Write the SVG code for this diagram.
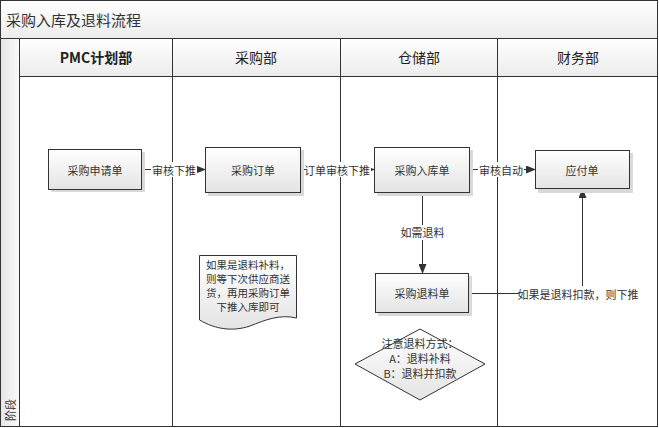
<svg xmlns="http://www.w3.org/2000/svg" width="659" height="428" viewBox="0 0 659 428">
<defs>
<linearGradient id="gNode" x1="0" y1="0" x2="0" y2="1"><stop offset="0" stop-color="#ffffff"/><stop offset="1" stop-color="#e4e4e4"/></linearGradient>
<linearGradient id="gHead" x1="0" y1="0" x2="0" y2="1"><stop offset="0" stop-color="#ffffff"/><stop offset="1" stop-color="#ececec"/></linearGradient>
<linearGradient id="gSide" x1="0" y1="0" x2="1" y2="0"><stop offset="0" stop-color="#e6e6e6"/><stop offset="1" stop-color="#fafafa"/></linearGradient>
<marker id="arr" markerWidth="10" markerHeight="8" refX="9" refY="4" orient="auto" markerUnits="userSpaceOnUse"><path d="M0,0 L10,4 L0,8 Z" fill="#333"/></marker>
<style>
.t{font-family:"Noto Sans CJK SC","Noto Sans",sans-serif;fill:#333;}
.n{font-size:11px;text-anchor:middle;dominant-baseline:central;}
.nt{font-size:10.5px;text-anchor:middle;dominant-baseline:central;}
.h{font-size:14px;text-anchor:middle;dominant-baseline:central;fill:#222;}
.box{fill:url(#gNode);stroke:#333;stroke-width:1;}
.sh{fill:#d9d9d9;}
.ln{stroke:#333;stroke-width:1;fill:none;}
.lab{font-size:11px;text-anchor:middle;dominant-baseline:central;}
</style>
</defs>
<g id="frame">
<rect x="0.5" y="0.5" width="657" height="426" fill="#fff" stroke="#333"/>
<rect x="0.5" y="0.5" width="657" height="38" fill="url(#gHead)" stroke="#333"/>
<text class="t" x="6" y="19" font-size="15" dominant-baseline="central" fill="#222">采购入库及退料流程</text>
<rect x="0.5" y="38.5" width="19" height="388" fill="url(#gSide)" stroke="#333"/>
<rect x="19.5" y="38.5" width="638" height="38" fill="url(#gHead)" stroke="#333"/>
<line class="ln" x1="172.5" y1="38" x2="172.5" y2="427"/>
<line class="ln" x1="340.5" y1="38" x2="340.5" y2="427"/>
<line class="ln" x1="497.5" y1="38" x2="497.5" y2="427"/>
<text class="t h" x="96" y="57" font-weight="bold">PMC计划部</text>
<text class="t h" x="256" y="57">采购部</text>
<text class="t h" x="419" y="57">仓储部</text>
<text class="t h" x="578" y="57">财务部</text>
<text class="t" x="9.5" y="410" font-size="11" text-anchor="middle" dominant-baseline="central" transform="rotate(-90 9.5 410)">阶段</text>
</g>
<g id="connectors">
<line class="ln" x1="142" y1="169.5" x2="205" y2="169.5" marker-end="url(#arr)"/>
<rect x="151" y="162" width="46" height="15" fill="#fff"/>
<text class="t lab" x="174" y="169.5">审核下推</text>
<line class="ln" x1="301" y1="169.5" x2="374" y2="169.5" marker-end="url(#arr)"/>
<rect x="305" y="162" width="66" height="15" fill="#fff"/>
<text class="t lab" x="337" y="169.5">订单审核下推</text>
<line class="ln" x1="470" y1="169.5" x2="535" y2="169.5" marker-end="url(#arr)"/>
<rect x="478" y="162" width="46" height="15" fill="#fff"/>
<text class="t lab" x="501" y="169.5">审核自动</text>
<line class="ln" x1="422.5" y1="193" x2="422.5" y2="273" marker-end="url(#arr)"/>
<rect x="398" y="225" width="50" height="15" fill="#fff"/>
<text class="t lab" x="422.5" y="232">如需退料</text>
<polyline class="ln" points="469,293.5 582.5,293.5 582.5,189" marker-end="url(#arr)"/>
<rect x="519" y="286" width="118" height="15" fill="#fff"/>
<text class="t lab" x="578" y="293.5">如果是退料扣款，则下推</text>
</g>
<g id="n1">
<rect class="sh" x="51" y="152" width="94" height="40"/>
<rect class="box" x="48.5" y="149.5" width="93" height="40"/>
<text class="t n" x="95" y="169.5">采购申请单</text>
</g>
<g id="n2">
<rect class="sh" x="208" y="150" width="96" height="46"/>
<rect class="box" x="205.5" y="147.5" width="95" height="45"/>
<text class="t n" x="253" y="170">采购订单</text>
</g>
<g id="n3">
<rect class="sh" x="377" y="150" width="96" height="46"/>
<rect class="box" x="374.5" y="147.5" width="95" height="45"/>
<text class="t n" x="422" y="170">采购入库单</text>
</g>
<g id="n4">
<rect class="sh" x="538" y="153" width="95" height="40"/>
<rect class="box" x="535.5" y="150.5" width="94" height="38"/>
<text class="t n" x="582" y="169.5">应付单</text>
</g>
<g id="n5">
<rect class="sh" x="378" y="276" width="94" height="40"/>
<rect class="box" x="375.5" y="273.5" width="93" height="39"/>
<text class="t n" x="422" y="293">采购退料单</text>
</g>
<g id="note">
<path class="box" d="M199.5,255.5 H296.5 V318 C280,314 265,320 250,326 C232,332 215,329 199.5,320 Z"/>
<text class="t nt" x="248" y="264">如果是退料补料，</text>
<text class="t nt" x="248" y="278">则等下次供应商送</text>
<text class="t nt" x="248" y="292">货，再用采购订单</text>
<text class="t nt" x="248" y="306">下推入库即可</text>
</g>
<g id="decision">
<path class="box" d="M420,329 L485,364 L420,400 L355,364 Z"/>
<text class="t n" x="420" y="343">注意退料方式：</text>
<text class="t n" x="420" y="358">A：退料补料</text>
<text class="t n" x="420" y="373">B：退料并扣款</text>
</g>
</svg>
